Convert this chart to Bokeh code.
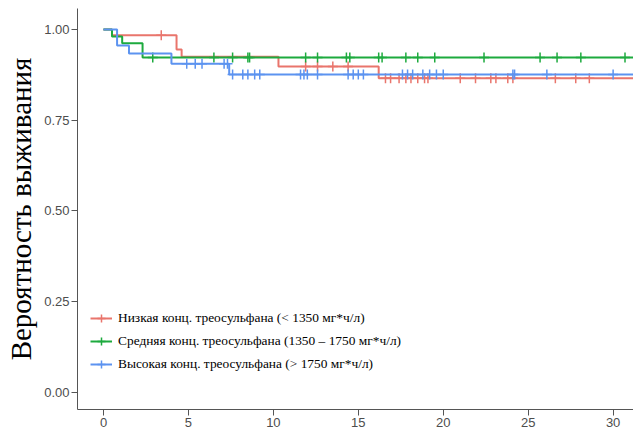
from bokeh.plotting import figure
from bokeh.models import Range1d, Legend, LegendItem, NumeralTickFormatter, FixedTicker
from bokeh.embed import file_html
from bokeh.resources import INLINE

# --- data ---
labels = ["Низкая конц. треосульфана (< 1350 мг*ч/л)",
          "Средняя конц. треосульфана (1350 – 1750 мг*ч/л)",
          "Высокая конц. треосульфана (> 1750 мг*ч/л)"]
colors = ["#E9756C", "#1DAA3E", "#5C93F0"]

low_t = [0, 0.5, 4.3, 4.6, 10.3, 16.2, 31.5]
low_s = [1.0, 0.984, 0.945, 0.925, 0.898, 0.866, 0.866]
low_cens_t = [3.4, 11.9, 12.6, 13.5, 14.4, 16.6, 16.9, 17.4, 17.8, 18.1, 18.5, 18.9, 19.1,
              21.0, 21.9, 22.8, 23.1, 23.8, 24.1, 26.6, 27.8, 28.6]

mid_t = [0, 0.5, 1.1, 2.3, 31.5]
mid_s = [1.0, 0.981, 0.962, 0.923, 0.923]
mid_cens_t = [2.9, 6.5, 7.6, 8.5, 8.6, 11.9, 12.6, 14.3, 14.5, 16.2, 16.4, 17.8, 18.5,
              19.5, 22.4, 25.7, 26.7, 28.1, 30.7]

high_t = [0, 0.8, 1.5, 4.0, 7.4, 31.5]
high_s = [1.0, 0.956, 0.934, 0.906, 0.876, 0.876]
high_cens_t = [4.9, 5.4, 5.8, 7.1, 7.3, 7.6, 8.2, 8.5, 8.9, 9.2, 11.6, 11.8, 12.0, 12.6,
               14.4, 14.7, 15.0, 15.3, 17.6, 17.9, 18.2, 18.8, 19.2, 19.6, 20.0, 24.1,
               24.2, 26.1, 30.0]

x_ticks = [0, 5, 10, 15, 20, 25, 30]
y_ticks = [0.0, 0.25, 0.5, 0.75, 1.0]


def surv_at(times, surv, t):
    val = surv[0]
    for ti, si in zip(times, surv):
        if ti <= t:
            val = si
    return val


p = figure(width=633, height=435, output_backend="svg", toolbar_location=None,
           x_range=Range1d(-1.53, 31.2), y_range=Range1d(-0.047, 1.058),
           min_border_left=77, min_border_right=0, min_border_top=8, min_border_bottom=26)
p.outline_line_color = None
p.grid.visible = False
p.background_fill_color = "white"

groups = [(low_t, low_s, low_cens_t), (mid_t, mid_s, mid_cens_t), (high_t, high_s, high_cens_t)]
items = []
for (t, s, ct), c, lab in zip(groups, colors, labels):
    r1 = p.step(t, s, mode="after", line_color=c, line_width=2)
    cy = [surv_at(t, s, x) for x in ct]
    r2 = p.scatter(ct, cy, marker="cross", size=10, line_color=c, line_width=1.5)
    items.append(LegendItem(label=lab, renderers=[r1, r2]))

leg = Legend(items=items, location=(13, 35), margin=0, padding=0, spacing=3,
             glyph_width=22, glyph_height=20, label_height=20, label_standoff=6,
             label_text_font="Liberation Serif", label_text_font_size="13.4px",
             label_text_color="black", background_fill_alpha=0, border_line_alpha=0)
p.add_layout(leg, "center")

for ax in (p.xaxis, p.yaxis):
    ax.axis_line_color = "#555555"
    ax.major_tick_line_color = "#555555"
    ax.major_tick_out = 6
    ax.major_tick_in = 0
    ax.minor_tick_line_color = None
    ax.major_label_text_font = "Liberation Sans"
    ax.major_label_text_font_size = "13px"
    ax.major_label_text_color = "#4d4d4d"
    ax.major_label_standoff = 2

p.xaxis.ticker = FixedTicker(ticks=x_ticks)
p.yaxis.ticker = FixedTicker(ticks=y_ticks)
p.yaxis.formatter = NumeralTickFormatter(format="0.00")
p.yaxis.axis_label = "Вероятность выживания"
p.yaxis.axis_label_text_font = "Liberation Serif"
p.yaxis.axis_label_text_font_style = "normal"
p.yaxis.axis_label_text_font_size = "29px"
p.yaxis.axis_label_text_color = "black"
p.yaxis.axis_label_standoff = 4

open("out.html", "w").write(file_html(p, INLINE))
